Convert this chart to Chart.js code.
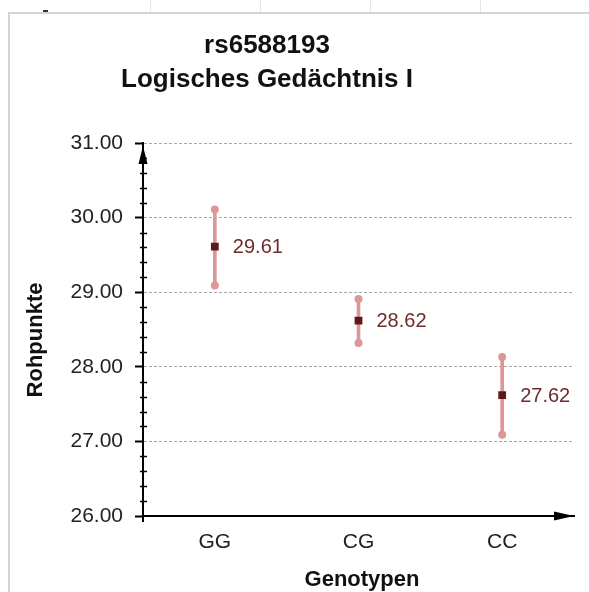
<!DOCTYPE html>
<html>
<head>
<meta charset="utf-8">
<script src="https://cdn.jsdelivr.net/npm/chart.js@4.4.1/dist/chart.umd.min.js"></script>
<style>
    body { margin: 0; background: #fff; }
    #wrap { position: relative; width: 589px; height: 592px; overflow: hidden; }
    #frame { position: absolute; left: 8px; top: 12px; right: -4px; bottom: -4px;
             border-left: 2px solid #d4d4d4; border-top: 2px solid #d4d4d4; }
    .cell { position: absolute; top: 0; width: 1px; height: 12px; background: #e6e6e6; }
    #mark { position: absolute; left: 43px; top: 10px; width: 5px; height: 2px; background: #333; }
    canvas { position: absolute; left: 0; top: 0; }
</style>
</head>
<body>
<div id="wrap">
    <div id="frame"></div>
    <div class="cell" style="left:150px"></div>
    <div class="cell" style="left:260px"></div>
    <div class="cell" style="left:370px"></div>
    <div class="cell" style="left:480px"></div>
    <div id="mark"></div>
    <canvas id="chart" width="589" height="592"></canvas>
</div>
<script>
const titleLines = ["rs6588193", "Logisches Gedächtnis I"];
const yTitle = "Rohpunkte";
const xTitle = "Genotypen";
const genotypes = ["GG", "CG", "CC"];
const means = [29.61, 28.62, 27.62];
const upper = [30.11, 28.91, 28.13];
const lower = [29.09, 28.32, 27.09];
const yTicks = [26, 27, 28, 29, 30, 31];

const FONT = "'Liberation Sans', Arial, sans-serif";

// titles, value labels, minor ticks and arrow heads
const decorations = {
    id: "decorations",
    afterDraw(chart) {
        const ctx = chart.ctx;
        const area = chart.chartArea;
        const x = chart.scales.x;
        const y = chart.scales.y;
        ctx.save();

        ctx.fillStyle = "#111";
        ctx.font = "bold 26px " + FONT;
        ctx.textAlign = "center";
        ctx.textBaseline = "middle";
        ctx.fillText(titleLines[0], 267, 46);
        ctx.fillText(titleLines[1], 267, 80);

        ctx.font = "bold 22px " + FONT;
        ctx.fillText(xTitle, 362, 580);
        ctx.save();
        ctx.translate(36, 340);
        ctx.rotate(-Math.PI / 2);
        ctx.fillText(yTitle, 0, 0);
        ctx.restore();

        ctx.fillStyle = "#6e2b2b";
        ctx.font = "20px " + FONT;
        ctx.textAlign = "left";
        means.forEach((m, i) => {
            ctx.fillText(m.toFixed(2), x.getPixelForValue(i) + 18, y.getPixelForValue(m) + 1);
        });

        // minor ticks every 0.2
        ctx.strokeStyle = "#000";
        ctx.lineWidth = 1.5;
        for (let k = 1; k < (y.max - y.min) * 5; k++) {
            if (k % 5 === 0) continue;
            const py = Math.round(y.getPixelForValue(y.min + k * 0.2)) + 0.5;
            ctx.beginPath();
            ctx.moveTo(area.left - 3, py);
            ctx.lineTo(area.left + 4, py);
            ctx.stroke();
        }
        // little cross at origin
        ctx.lineWidth = 2;
        ctx.beginPath();
        ctx.moveTo(area.left, area.bottom - 2);
        ctx.lineTo(area.left, area.bottom + 6);
        ctx.stroke();

        // arrow heads
        ctx.fillStyle = "#000";
        ctx.beginPath();
        ctx.moveTo(area.left, area.top + 3);
        ctx.lineTo(area.left - 4.5, area.top + 21);
        ctx.lineTo(area.left + 4.5, area.top + 21);
        ctx.closePath();
        ctx.fill();
        ctx.beginPath();
        ctx.moveTo(area.right, area.bottom);
        ctx.lineTo(area.right - 20, area.bottom - 4.5);
        ctx.lineTo(area.right - 20, area.bottom + 4.5);
        ctx.closePath();
        ctx.fill();
        ctx.restore();
    }
};

const errColor = "#dc9898";

new Chart(document.getElementById("chart"), {
    data: {
        labels: genotypes,
        datasets: [
            {
                type: "bar",
                data: genotypes.map((g, i) => [lower[i], upper[i]]),
                backgroundColor: errColor,
                barThickness: 3,
                order: 3
            },
            {
                type: "line",
                data: upper,
                showLine: false,
                pointRadius: 4,
                pointBackgroundColor: errColor,
                pointBorderWidth: 0,
                order: 2
            },
            {
                type: "line",
                data: lower,
                showLine: false,
                pointRadius: 4,
                pointBackgroundColor: errColor,
                pointBorderWidth: 0,
                order: 2
            },
            {
                type: "line",
                data: means,
                showLine: false,
                pointStyle: "rect",
                pointRadius: 5.5,
                pointBackgroundColor: "#5e1a1a",
                pointBorderWidth: 0,
                order: 1
            }
        ]
    },
    options: {
        responsive: false,
        animation: false,
        layout: { padding: { left: 23, right: 15, top: 143, bottom: 0 } },
        plugins: {
            legend: { display: false },
            tooltip: { enabled: false }
        },
        scales: {
            x: {
                type: "category",
                offset: true,
                grid: { display: false, drawTicks: false },
                border: { color: "#000", width: 2 },
                ticks: { color: "#222", font: { family: FONT, size: 21 }, padding: 14 },
                afterFit(scale) { scale.height = 76; }
            },
            y: {
                min: 26,
                max: 31,
                afterBuildTicks(scale) { scale.ticks = yTicks.map(v => ({ value: v })); },
                grid: {
                    color: "#a8a8a8",
                    lineWidth: 1,
                    tickColor: "#000",
                    tickWidth: 2,
                    tickLength: 8,
                    tickBorderDash: []
                },
                border: { color: "#000", width: 2, dash: [3, 2] },
                ticks: {
                    color: "#222",
                    font: { family: FONT, size: 21 },
                    padding: 12,
                    callback: v => Number(v).toFixed(2)
                },
                afterFit(scale) { scale.width = 120; }
            }
        }
    },
    plugins: [decorations]
});
</script>
</body>
</html>
